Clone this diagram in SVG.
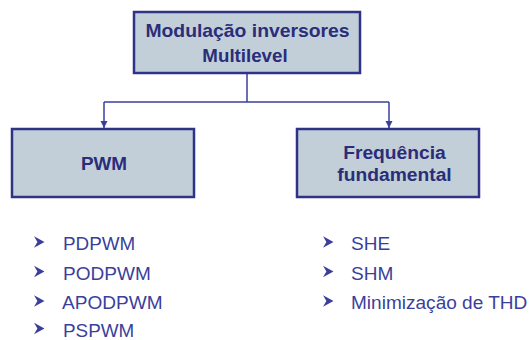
<svg xmlns="http://www.w3.org/2000/svg" width="531" height="340" viewBox="0 0 531 340">
  <style>
    .box { fill: #c2cfd9; stroke: #2e3388; stroke-width: 2.5; }
    .title { font-family: "Liberation Sans", Arial, sans-serif; font-weight: bold; font-size: 18px; fill: #2a2d78; text-anchor: middle; }
    .item { font-family: "Liberation Sans", Arial, sans-serif; font-size: 18.5px; fill: #3a3f9c; }
    .wire { fill: none; stroke: #3a3f9c; stroke-width: 1.5; }
    .bullet { fill: #3a3f9c; }
  </style>
  <defs>
    <marker id="tip" viewBox="0 0 10 10" refX="10" refY="5" markerWidth="5" markerHeight="5" orient="auto">
      <path d="M0,0 L10,5 L0,10 z" fill="#3a3f9c"/>
    </marker>
    <!-- arrowhead bullet, origin at its left-centre -->
    <path id="arrowBullet" d="M0,-5.8 L10.5,0 L0,5.8 L3.4,0 z"/>
  </defs>

  <g id="connectors">
    <path class="wire" d="M247,73 V102"/>
    <path class="wire" d="M104,102 H389"/>
    <path class="wire" d="M104,102 V128" marker-end="url(#tip)"/>
    <path class="wire" d="M389,102 V128" marker-end="url(#tip)"/>
  </g>

  <g id="root">
    <rect class="box" x="134" y="12" width="226" height="61"/>
    <text class="title" transform="translate(247.5 37) scale(1.075 1)">Modulação inversores</text>
    <text class="title" transform="translate(245 62) scale(1.04 1)">Multilevel</text>
  </g>

  <g id="pwm">
    <rect class="box" x="12" y="129" width="182" height="68"/>
    <text class="title" transform="translate(104 170) scale(1.05 1)">PWM</text>
  </g>

  <g id="fundamental">
    <rect class="box" x="297" y="129" width="182" height="68"/>
    <text class="title" transform="translate(394.5 159) scale(1.07 1)">Frequência</text>
    <text class="title" transform="translate(394.5 181) scale(1.07 1)">fundamental</text>
  </g>

  <g id="pwm-list">
    <use href="#arrowBullet" class="bullet" x="34" y="242"/>
    <text class="item" transform="translate(63 250) scale(1.02 1)">PDPWM</text>
    <use href="#arrowBullet" class="bullet" x="34" y="271.5"/>
    <text class="item" transform="translate(63 279.5) scale(1.03 1)">PODPWM</text>
    <use href="#arrowBullet" class="bullet" x="34" y="301"/>
    <text class="item" transform="translate(62 309) scale(1.03 1)">APODPWM</text>
    <use href="#arrowBullet" class="bullet" x="34" y="328.5"/>
    <text class="item" transform="translate(63 336.5) scale(1.02 1)">PSPWM</text>
  </g>

  <g id="fundamental-list">
    <use href="#arrowBullet" class="bullet" x="323" y="242"/>
    <text class="item" transform="translate(351 250) scale(1.03 1)">SHE</text>
    <use href="#arrowBullet" class="bullet" x="323" y="271.5"/>
    <text class="item" transform="translate(351 279.5) scale(1.03 1)">SHM</text>
    <use href="#arrowBullet" class="bullet" x="323" y="301"/>
    <text class="item" transform="translate(351 309) scale(1.03 1)">Minimização de THD</text>
  </g>
</svg>
